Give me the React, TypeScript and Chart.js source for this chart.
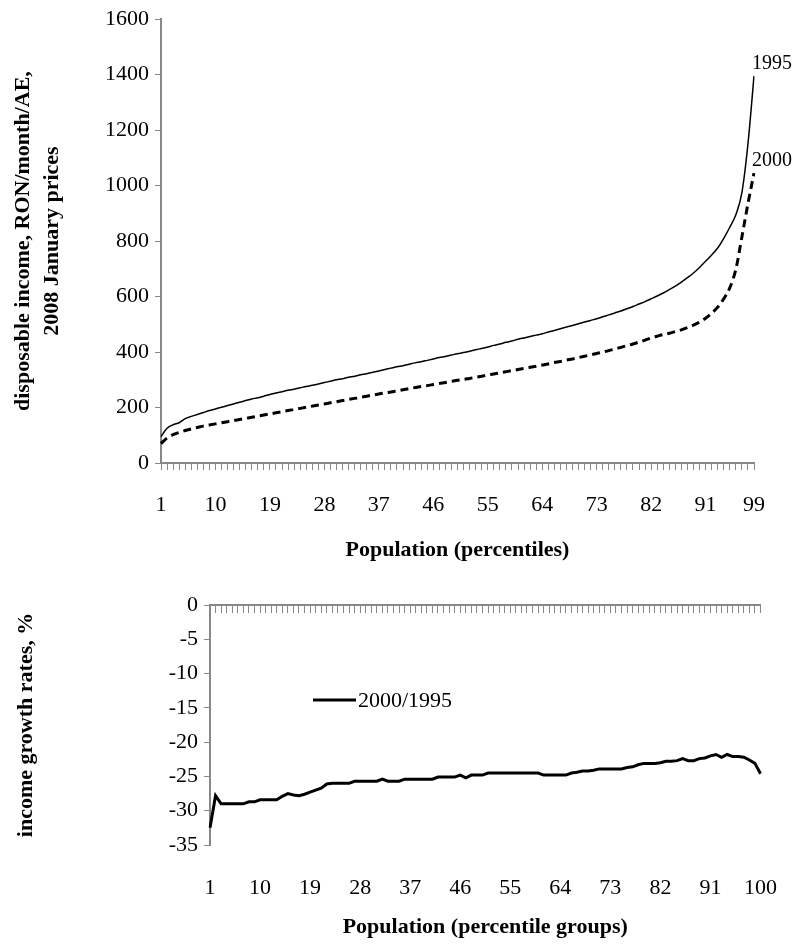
import { useEffect, useRef } from "react";
import { Chart, registerables } from "chart.js";
import React from "react";

Chart.register(...registerables);

const percentiles = Array.from({ length: 99 }, (_, i) => String(i + 1));
const groups = Array.from({ length: 100 }, (_, i) => String(i + 1));

const income1995 = [
  95, 125, 138, 145, 160, 168, 175, 182, 189, 195,
  201, 207, 213, 219, 225, 231, 235, 241, 247, 252,
  257, 262, 266, 271, 276, 280, 285, 290, 295, 300,
  304, 309, 313, 318, 322, 327, 332, 337, 342, 347,
  351, 356, 361, 365, 370, 375, 380, 384, 389, 394,
  398, 403, 408, 413, 418, 424, 429, 435, 440, 446,
  451, 456, 461, 466, 472, 478, 484, 490, 496, 502,
  508, 514, 520, 527, 534, 541, 548, 556, 564, 573,
  582, 592, 602, 613, 625, 638, 652, 668, 685, 705,
  727, 750, 775, 810, 850, 895, 975, 1150, 1395,
];

const income2000 = [
  70, 90, 102, 110, 117, 123, 128, 133, 137, 141,
  145, 149, 153, 157, 161, 165, 169, 173, 177, 181,
  185, 189, 193, 197, 201, 205, 209, 213, 217, 221,
  225, 229, 233, 237, 241, 245, 249, 253, 256, 260,
  264, 268, 272, 276, 279, 283, 287, 290, 294, 298,
  301, 305, 309, 313, 317, 321, 325, 329, 333, 337,
  341, 345, 349, 353, 357, 362, 366, 371, 375, 380,
  385, 390, 395, 400, 405, 411, 417, 423, 429, 436,
  443, 451, 457, 463, 468, 474, 480, 488, 497, 508,
  522, 540, 562, 592, 632, 698, 815, 935, 1045,
];

const growth = [
  -32.5, -27.8, -29, -29, -29, -29, -29, -28.7, -28.7, -28.4,
  -28.4, -28.4, -28.4, -27.9, -27.5, -27.7, -27.8, -27.6, -27.3, -27,
  -26.7, -26.1, -26, -26, -26, -26, -25.7, -25.7, -25.7, -25.7,
  -25.7, -25.4, -25.7, -25.7, -25.7, -25.4, -25.4, -25.4, -25.4, -25.4,
  -25.4, -25.1, -25.1, -25.1, -25.1, -24.8, -25.2, -24.8, -24.8, -24.8,
  -24.5, -24.5, -24.5, -24.5, -24.5, -24.5, -24.5, -24.5, -24.5, -24.5,
  -24.8, -24.8, -24.8, -24.8, -24.8, -24.5, -24.4, -24.2, -24.2, -24.1,
  -23.9, -23.9, -23.9, -23.9, -23.9, -23.7, -23.6, -23.3, -23.1, -23.1,
  -23.1, -23, -22.8, -22.8, -22.7, -22.4, -22.7, -22.7, -22.4, -22.3,
  -22, -21.8, -22.2, -21.8, -22.1, -22.1, -22.2, -22.6, -23.1, -24.6,
];

const FONT = "'Liberation Serif', 'Times New Roman', serif";
const AXIS = "#888888";
const SIZE = 22;

const App: React.FC = () => {
  const topRef = useRef<HTMLCanvasElement>(null);
  const botRef = useRef<HTMLCanvasElement>(null);

  useEffect(() => {
    let top: Chart | null = null;
    let bot: Chart | null = null;

    // series names written next to the last point of each line
    const endLabels = {
      id: "endLabels",
      afterDatasetsDraw(chart: any) {
        const ctx = chart.ctx;
        ctx.save();
        ctx.font = `20px ${FONT}`;
        ctx.fillStyle = "#000";
        ctx.textBaseline = "bottom";
        const names = ["1995", "2000"];
        chart.data.datasets.forEach((_: any, i: number) => {
          const pts = chart.getDatasetMeta(i).data;
          const p = pts[pts.length - 1];
          ctx.fillText(names[i], p.x - 2, p.y - 2);
        });
        ctx.restore();
      },
    };

    const legendPlugin = {
      id: "innerLegend",
      afterDatasetsDraw(chart: any) {
        const ctx = chart.ctx;
        const a = chart.chartArea;
        const y = a.top + 95;
        const x = a.left + 103;
        ctx.save();
        ctx.strokeStyle = "#000";
        ctx.lineWidth = 3;
        ctx.beginPath();
        ctx.moveTo(x, y);
        ctx.lineTo(x + 43, y);
        ctx.stroke();
        ctx.font = `${SIZE}px ${FONT}`;
        ctx.fillStyle = "#000";
        ctx.textBaseline = "middle";
        ctx.fillText("2000/1995", x + 45, y + 1);
        ctx.restore();
      },
    };

    if (topRef.current) {
      top = new Chart(topRef.current, {
        type: "line",
        data: {
          labels: percentiles,
          datasets: [
            { data: income1995, borderColor: "#000", borderWidth: 1.5, pointRadius: 0, cubicInterpolationMode: "monotone" },
            { data: income2000, borderColor: "#000", borderWidth: 3, borderDash: [8, 5], pointRadius: 0, cubicInterpolationMode: "monotone" },
          ],
        },
        options: {
          animation: false,
          responsive: false,
          layout: { padding: { top: 13, right: 45, left: 0, bottom: 12 } },
          plugins: { legend: { display: false }, tooltip: { enabled: false } },
          scales: {
            x: {
              offset: false,
              grid: { display: true, drawOnChartArea: false, color: AXIS, tickLength: 7 },
              border: { color: AXIS, width: 2 },
              ticks: {
                autoSkip: false,
                maxRotation: 0,
                color: "#000",
                font: { family: FONT, size: SIZE },
                padding: 22,
                callback: (_v: any, i: number) => (i % 9 === 0 || i === 98 ? percentiles[i] : ""),
              },
              title: {
                display: true,
                text: "Population (percentiles)",
                color: "#000",
                font: { family: FONT, size: SIZE, weight: "bold" },
                padding: { top: 8 },
              },
              afterFit: (s: any) => { s.height = 105; },
            },
            y: {
              min: 0,
              max: 1600,
              grid: { display: true, drawOnChartArea: false, color: AXIS, tickLength: 6 },
              border: { color: AXIS, width: 2 },
              ticks: { stepSize: 200, color: "#000", font: { family: FONT, size: SIZE }, padding: 6, callback: (v: any) => String(v) },
              title: {
                display: true,
                text: ["disposable income, RON/month/AE,", "2008 January prices"],
                color: "#000",
                font: { family: FONT, size: SIZE, weight: "bold", lineHeight: 1.35 },
                padding: { top: 8, bottom: 4 },
              },
              afterFit: (s: any) => { s.width = 161; },
            },
          },
        },
        plugins: [endLabels],
      });
    }

    if (botRef.current) {
      bot = new Chart(botRef.current, {
        type: "line",
        data: {
          labels: groups,
          datasets: [
            { data: growth, borderColor: "#000", borderWidth: 3, pointRadius: 0, tension: 0, xAxisID: "x" },
          ],
        },
        options: {
          animation: false,
          responsive: false,
          layout: { padding: { top: 25, right: 17, left: 0, bottom: 0 } },
          plugins: { legend: { display: false }, tooltip: { enabled: false } },
          scales: {
            x: {
              offset: false,
              grid: { display: false },
              border: { display: false },
              ticks: {
                autoSkip: false,
                maxRotation: 0,
                color: "#000",
                font: { family: FONT, size: SIZE },
                padding: 22,
                callback: (_v: any, i: number) => (i % 9 === 0 ? groups[i] : ""),
              },
              title: {
                display: true,
                text: "Population (percentile groups)",
                color: "#000",
                font: { family: FONT, size: SIZE, weight: "bold" },
                padding: { top: 16 },
              },
              afterFit: (s: any) => { s.height = 100; },
            },
            // axis line with the small tick marks sits at y = 0
            x2: {
              type: "category",
              labels: groups,
              position: { y: 0 } as any,
              offset: false,
              grid: { display: true, drawOnChartArea: false, color: AXIS, tickLength: 7 },
              border: { color: AXIS, width: 2 },
              ticks: { autoSkip: false, display: false },
            },
            y: {
              min: -35,
              max: 0,
              grid: { display: true, drawOnChartArea: false, color: AXIS, tickLength: 6 },
              border: { color: AXIS, width: 2 },
              ticks: { stepSize: 5, color: "#000", font: { family: FONT, size: SIZE }, padding: 6 },
              title: {
                display: true,
                text: "income growth rates, %",
                color: "#000",
                font: { family: FONT, size: SIZE, weight: "bold" },
                padding: { top: 13, bottom: 4 },
              },
              afterFit: (s: any) => { s.width = 210; },
            },
          },
        },
        plugins: [legendPlugin],
      });
    }

    return () => {
      if (top) top.destroy();
      if (bot) bot.destroy();
    };
  }, []);

  return (
    <div style={{ position: "fixed", left: 0, top: 0, width: 799, height: 945, background: "#fff" }}>
      <canvas ref={topRef} width={799} height={580} style={{ position: "absolute", left: 0, top: 0 }}></canvas>
      <canvas ref={botRef} width={799} height={365} style={{ position: "absolute", left: 0, top: 580 }}></canvas>
    </div>
  );
};

export default App;
